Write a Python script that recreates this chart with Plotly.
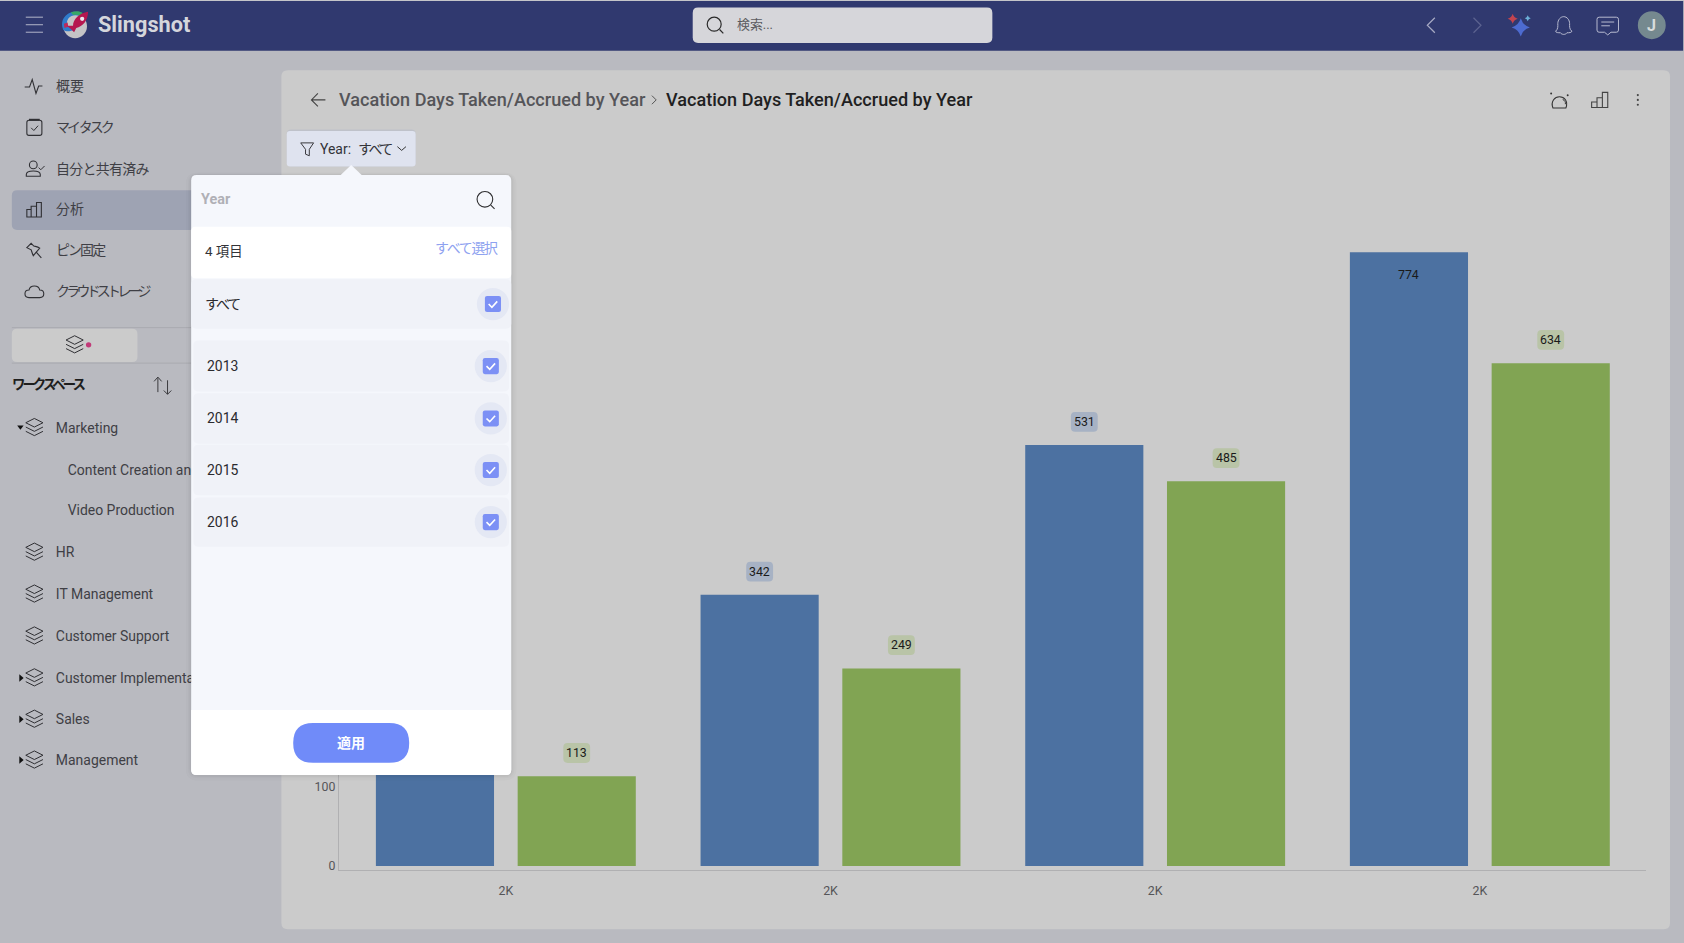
import re
import plotly.graph_objects as go

# ---------- chart data ----------
years = [2013, 2014, 2015, 2016]
x_tick_labels = ["2K", "2K", "2K", "2K"]
days_accrued = [150, 342, 531, 774]
days_taken = [113, 249, 485, 634]

# ---------- interface text ----------
nav_items = ["概要", "マイ タスク", "自分と共有済み", "分析", "ピン固定", "クラウド ストレージ"]
nav_spacing = [0, -2.9, -0.7, 0, -1.9, -3.7]
tree_items = ["Marketing", "HR", "IT Management", "Customer Support", "Customer Implementation", "Sales", "Management"]
tree_children = ["Content Creation and", "Video Production"]
title_text = "Vacation Days Taken/Accrued by Year"

W, H = 1684, 943
S = W / 1568  # authored in 1568-wide units
SY = S * 1.0035
FONT = "Roboto, 'Noto Sans CJK JP', sans-serif"

shapes, notes = [], []


def X(v):
    return v * S / W


def Y(v):
    return 1 - v * SY / H


def P(path, dx=0, dy=0):
    out, i = [], 0
    for tok in re.findall(r"[A-Za-z]|-?\d+\.?\d*", path):
        if tok.isalpha():
            out.append(tok)
        else:
            if i % 2 == 0:
                out.append(f"{X(float(tok) + dx):.6f}")
            else:
                out.append(f"{Y(float(tok) + dy):.6f}")
            i += 1
    return " ".join(out)


def path(d, fill=None, line=None, width=1.0, dx=0, dy=0, opacity=1):
    shapes.append(dict(type="path", xref="paper", yref="paper", path=P(d, dx, dy), layer="above", opacity=opacity,
                       fillcolor=fill or "rgba(0,0,0,0)",
                       line=dict(color=line or "rgba(0,0,0,0)", width=width if line else 0)))


def rr_d(x0, y0, x1, y1, r=0, tl=True, tr=True, br=True, bl=True):
    a, b, c, d = (r if tl else 0), (r if tr else 0), (r if br else 0), (r if bl else 0)
    return (f"M {x0+a} {y0} L {x1-b} {y0} Q {x1} {y0} {x1} {y0+b} L {x1} {y1-c} Q {x1} {y1} {x1-c} {y1} "
            f"L {x0+d} {y1} Q {x0} {y1} {x0} {y1-d} L {x0} {y0+a} Q {x0} {y0} {x0+a} {y0} Z")


def rect(x0, y0, x1, y1, fill, r=0, opacity=1, **kw):
    path(rr_d(x0, y0, x1, y1, r, **kw), fill=fill, opacity=opacity)


def circle(cx, cy, r, fill=None, line=None, width=1.0):
    shapes.append(dict(type="circle", xref="paper", yref="paper", layer="above",
                       x0=X(cx - r), x1=X(cx + r), y0=Y(cy + r), y1=Y(cy - r),
                       fillcolor=fill or "rgba(0,0,0,0)",
                       line=dict(color=line or "rgba(0,0,0,0)", width=width if line else 0)))


def txt(x, y, text, size=13, color="#3c3c40", anchor="left", weight=400, spacing=0):
    if spacing:
        text = f'<span style="letter-spacing:{spacing}px">{text}</span>'
    nudge = -1 if anchor == "left" else 0
    notes.append(dict(xref="paper", yref="paper", x=X(x + nudge), y=Y(y), text=text, showarrow=False,
                      xanchor=anchor, yanchor="middle", borderpad=0, align=anchor,
                      font=dict(family=FONT, size=size * S, color=color, weight=weight)))


# ---------- chart geometry ----------
PLOT_L, PLOT_R, PLOT_T, PLOT_B = 315.5, 1533, 175, 810
ZERO_Y, UNIT = 806, 0.738
CAT0, CAT_W = 471, 302.3
BAR_OFFSET = 66 / CAT_W

fig = go.Figure()
fig.add_bar(x=years, y=days_accrued, name="Accrued", marker=dict(color="#4c71a1", line=dict(width=0)))
fig.add_bar(x=years, y=days_taken, name="Taken", marker=dict(color="#81a453", line=dict(width=0)))

# ---------- backgrounds drawn under the chart ----------
rect(0, 0, 1568, 878, "#b9bac0")
rect(262, 65.3, 1555, 865, "#cbcbcb", r=6)
rect(0, 1, 1567.2, 47.3, "#30396f")
rect(0, 0, 1568, 0.9, "#c4c5c9")
for s in shapes:
    s["layer"] = "below"

# ---------- data labels ----------
def pill(year_x, value, up, fill):
    w, h, r = 12.5 * S, 9.2 * S, 4 * S
    u = up * S
    d = (f"M {-w+r} {u+h} L {w-r} {u+h} Q {w} {u+h} {w} {u+h-r} L {w} {u-h+r} Q {w} {u-h} {w-r} {u-h} "
         f"L {-w+r} {u-h} Q {-w} {u-h} {-w} {u-h+r} L {-w} {u+h-r} Q {-w} {u+h} {-w+r} {u+h} Z")
    shapes.append(dict(type="path", xref="x", yref="y", xsizemode="pixel", ysizemode="pixel",
                       xanchor=year_x, yanchor=value, path=d, layer="above",
                       fillcolor=fill, line=dict(width=0)))


def value_label(year_x, value, up):
    notes.append(dict(xref="x", yref="y", x=year_x, y=value, yshift=up * S, text=str(value), showarrow=False,
                      xanchor="center", yanchor="middle",
                      font=dict(family=FONT, size=11.5 * S, color="#1a1a1a")))


for yr, a, t in zip(years, days_accrued, days_taken):
    if yr != years[0]:  # that label sits behind the open filter panel
        if a < max(days_accrued):
            pill(yr - BAR_OFFSET, a, 21.5, "#a7b2c4")
            value_label(yr - BAR_OFFSET, a, 21.5)
        else:
            value_label(yr - BAR_OFFSET, a, -21)
    pill(yr + BAR_OFFSET, t, 21.7, "#b9c4a7")
    value_label(yr + BAR_OFFSET, t, 21.7)

# ---------- header ----------
for yy in (16, 23, 30):
    path(f"M 24 {yy} L 40 {yy}", line="#a8abc2", width=1.1)
# logo
circle(70, 24.5, 11, fill="#c4c4c6")
path("M 59 28 C 54 16 66 8 76 12 L 74 15 C 68 12 60 17 63 24 L 69 28 C 66 29 62 30 59 28 Z", fill="#2f7bcb")
path("M 66 11.5 C 70 10 74 10 77 12 L 75 15 C 72 13.5 70 13.5 68 14 Z", fill="#36a866")
path("M 59.5 22 L 63 21 L 63.5 25 L 60 26 Z", fill="#bb2a5c")
path("M 68 24 C 68 18 74 12 82 11 C 82 19 77 25 71 26 L 69 30 L 66 27 L 62 24 Z", fill="#b5174f")
circle(76.5, 17.5, 2, fill="#e9e9ee")
txt(91, 23, "Slingshot", size=20.2, color="#d5d6dc", weight=700)
# search box
rect(645, 7, 924, 40, "#d6d6da", r=5)
circle(665, 22.5, 6.5, line="#2a2a2a", width=1.2)
path("M 670 27.5 L 673.5 31", line="#2a2a2a", width=1.2)
txt(686, 23, "検索...", size=12, color="#5b5b60")
# nav chevrons
path("M 1336 16.5 L 1329 23.5 L 1336 30.5", line="#a7aac4", width=1.2)
path("M 1372 16.5 L 1379 23.5 L 1372 30.5", line="#5c6390", width=1.2)


def star(cx, cy, r, fill):
    k = r * 0.22
    path(f"M {cx} {cy-r} Q {cx+k} {cy-k} {cx+r} {cy} Q {cx+k} {cy+k} {cx} {cy+r} Q {cx-k} {cy+k} {cx-r} {cy} Q {cx-k} {cy-k} {cx} {cy-r} Z", fill=fill)


star(1416, 25.5, 8.5, "#4d6bd0")
star(1408.5, 17.5, 4.7, "#c2444f")
star(1422.5, 17, 2.8, "#6cb0d8")
# bell
path("M 1448.5 29 C 1451 27 1450.5 24 1450.5 22 C 1450.5 18.5 1453 15.5 1456 15.5 C 1459 15.5 1461.5 18.5 1461.5 22 "
     "C 1461.5 24 1461 27 1463.5 29 C 1463.5 30.5 1461 30.5 1459 30.5 C 1458 32.5 1454 32.5 1453 30.5 C 1451 30.5 1448.5 30.5 1448.5 29 Z",
     line="#b7bad0", width=1)
# chat
path("M 1489 16 L 1505 16 Q 1507 16 1507 18 L 1507 28 Q 1507 30 1505 30 L 1500 30 L 1497 32.5 L 1494 30 L 1489 30 Q 1487 30 1487 28 L 1487 18 Q 1487 16 1489 16 Z",
     line="#b7bad0", width=1)
path("M 1491 20.5 L 1503 20.5 M 1491 24 L 1499 24", line="#b7bad0", width=1)
circle(1538, 23.5, 13, fill="#75898f")
txt(1538, 24, "J", size=15, color="#d8dcdc", anchor="center", weight=700)

# ---------- sidebar ----------
rect(11, 177, 250, 214, "#9ea3b3", r=5)
for label, yy, sp in zip(nav_items, (80, 118, 157, 195, 233, 271), nav_spacing):
    txt(52, yy, label, size=13, color="#3f3f45", spacing=sp)
ICON = "#303034"
path("M 23 81 L 27.5 81 L 30 74 L 33.5 87 L 36 80 L 39.5 80", line=ICON, width=1.1)
path(rr_d(25, 112, 39, 126, 2), line=ICON, width=1.1)
path("M 27 111.5 L 37 111.5", line=ICON, width=2)
path("M 29 119 L 31.5 121.5 L 35.5 117", line=ICON, width=1)
circle(31, 153.5, 3.6, line=ICON, width=1.1)
path("M 24.5 164 L 24.5 162.5 C 24.5 158 37.5 158 37.5 162.5 L 37.5 164 Z", line=ICON, width=1.1)
path("M 36 156 L 38 158 L 41.5 154.5", line=ICON, width=1)
path("M 25 202 L 25 195 L 29 195 L 29 202 Z M 29 202 L 29 192 L 34 192 L 34 202 Z M 34 202 L 34 188.5 L 38.5 188.5 L 38.5 202 Z", line=ICON, width=1.1)
path("M 25 230.5 L 29 226.5 L 31.5 229 C 33 229.5 35 229.5 37 231 L 31 238 C 30 236 29.5 234 29 232.5 Z", line=ICON, width=1.1)
path("M 33.5 234.5 L 38.5 240", line=ICON, width=1.1)
path("M 27 277 C 22 277 22 270 27 270 C 28 265 36 265 37 270 C 42 270 42 277 37 277 Z", line=ICON, width=1.1)

path("M 11 305 L 178 305", line="#a9aab0", width=1)
path("M 11 338 L 178 338", line="#a9aab0", width=1)
rect(11, 306, 128, 337, "#cbcbcb", r=5)


def layers(cx, cy):
    path("M -8 -4.5 L 0 -8.5 L 8 -4.5 L 0 -0.5 Z", line=ICON, width=1, dx=cx, dy=cy)
    path("M -8 -0.5 L 0 3.5 L 8 -0.5", line=ICON, width=1, dx=cx, dy=cy)
    path("M -8 3.5 L 0 7.5 L 8 3.5", line=ICON, width=1, dx=cx, dy=cy)


layers(69.5, 321)
circle(82.5, 321, 2.5, fill="#c23a78")
txt(11, 358, "ワークスペース", size=12.5, color="#1e1e1e", weight=700, spacing=-3)
path("M 147 365 L 147 352 M 143.5 355 L 147 351 L 150.5 355 M 156 354 L 156 367 M 152.5 363.5 L 156 367 L 159.5 363.5", line="#3a3a3e", width=1)

tree_y = (398, 514, 553, 592, 631, 669.5, 707.5)
child_y = (437, 475)
arrow = {0: "down", 4: "right", 5: "right", 6: "right"}
for i, yy in enumerate(tree_y):
    layers(32, yy)
    if arrow.get(i) == "down":
        path(f"M 16 {yy-2} L 22 {yy-2} L 19 {yy+2} Z", fill="#111")
    elif arrow.get(i) == "right":
        path(f"M 18 {yy-3.5} L 22 {yy} L 18 {yy+3.5} Z", fill="#111")

# Tree labels run under the open panel, so they are text marks on a full-page axis pair.
tree_labels = tree_items + tree_children
tree_xs = [52 * S] * len(tree_items) + [63 * S] * len(tree_children)
tree_ys = [(v + 1.5) * SY for v in tree_y + child_y]
fig.add_scatter(x=tree_xs, y=tree_ys, text=tree_labels, mode="text", textposition="middle right", xaxis="x2", yaxis="y2",
                textfont=dict(family=FONT, size=13 * S, color="#3f3f45"), cliponaxis=False, hoverinfo="skip")

# ---------- title row ----------
path("M 303 93 L 290 93 M 296 87 L 290 93 L 296 99", line="#444", width=1.1)
txt(316, 93, title_text, size=16.85, color="#555559", weight=500)
path("M 607 89 L 611 93 L 607 97", line="#555", width=1)
txt(620, 93, title_text, size=16.85, color="#1f1f22", weight=500)
path("M 1446 100.5 C 1443.5 94 1448 90 1452 90 C 1456.5 90 1460.5 94 1458 100.5 Z", line="#333", width=1.1)
path("M 1455 92.5 C 1457 93.5 1458 95 1457.5 97", line="#333", width=1)
circle(1444.3, 87, 0.9, fill="#333")
circle(1459.7, 88.7, 0.9, fill="#333")
path("M 1482 100 L 1482 95 L 1487 95 L 1487 100 Z M 1487 100 L 1487 91 L 1492 91 L 1492 100 Z M 1492 100 L 1492 86 L 1497 86 L 1497 100 Z", line="#444", width=1.1)
for yy in (88.5, 93, 97.5):
    circle(1525, yy, 1, fill="#444")

# ---------- filter chip ----------
rect(267, 120.5, 387, 155, "#bfc2ca", r=4)
rect(267, 122, 387, 155, "#dfe3ef", r=3)
path("M 280 133 L 292 133 L 288 139 L 288 145 L 284.5 143.5 L 284.5 139 Z", line="#3a3a3e", width=1)
txt(298, 138.5, 'Year:  <span style="letter-spacing:-2.4px">すべて</span>', size=13, color="#333338")
path("M 370 136.5 L 374 140 L 378 136.5", line="#333", width=1)

# ---------- filter panel ----------
for grow, alpha in ((5, 0.015), (3, 0.02), (1.5, 0.03)):
    rect(178 - grow, 163 - grow / 2, 476 + grow, 721.5 + grow, "#000", r=6 + grow, opacity=alpha)
path("M 316 164 L 327 153.5 L 338 164 Z", fill="#f5f7fc")
rect(178, 163, 476, 721.5, "#f5f7fc", r=5)
rect(178, 211, 476, 259, "#ffffff", r=4)
rect(178, 661, 476, 721.5, "#ffffff", r=5, tl=False, tr=False)
rect(273, 673, 381, 710, "#708bf9", r=18.5)
txt(326.5, 691.5, "適用", size=13, color="#ffffff", anchor="center", weight=700)
txt(187, 186, "Year", size=13.4, color="#b0b0b6", weight=700)
circle(451.5, 185.5, 7.3, line="#2e2e30", width=1.1)
path("M 457 191 L 460.5 194.5", line="#2e2e30", width=1.1)
txt(191, 234, "4 項目", size=12.5, color="#333338")
txt(405.5, 231, "すべて選択", size=13, color="#8ea2f0", spacing=-1.3)


def check_row(y0, y1, x0, x1, cx, label, lx, sp=0):
    rect(x0, y0, x1, y1, "#f0f2f8", r=5)
    cy = (y0 + y1) / 2
    circle(cx, cy, 15, fill="#e4e8f4")
    rect(cx - 7.5, cy - 7.5, cx + 7.5, cy + 7.5, "#7c90f5", r=2)
    path(f"M {cx-4} {cy} L {cx-1} {cy+3} L {cx+4} {cy-2.5}", line="#ffffff", width=1.6)
    txt(lx, cy, label, size=13, color="#2b2b2f", spacing=sp)


check_row(260, 306, 178, 476, 459, "すべて", 190.5, sp=-2)
rows = [(317, 364.5), (366, 413), (414, 461), (463, 509)]
for (a, b), yr in zip(rows, years):
    check_row(a, b, 180, 474, 457, str(yr), 193)

# ---------- layout ----------
y_bottom = (ZERO_Y - PLOT_B) / UNIT
y_top = (ZERO_Y - PLOT_T) / UNIT
x_low = years[0] + (PLOT_L - CAT0) / CAT_W
x_high = years[0] + (PLOT_R - CAT0) / CAT_W

fig.update_layout(
    width=W, height=H, margin=dict(l=0, r=0, t=0, b=0),
    paper_bgcolor="#b9bac0", plot_bgcolor="rgba(0,0,0,0)",
    showlegend=False, barmode="group", bargap=1 - 132 * 2 / CAT_W, bargroupgap=22 / 132,
    font=dict(family=FONT),
    shapes=shapes, annotations=notes,
    xaxis=dict(domain=[X(PLOT_L), X(PLOT_R)], range=[x_low, x_high], tickmode="array", tickvals=years,
               ticktext=x_tick_labels, showgrid=False, zeroline=False, showline=True, linecolor="#b0b0b2", linewidth=1,
               ticks="", ticklabelstandoff=9, tickfont=dict(family=FONT, size=11.5 * S, color="#555558")),
    yaxis=dict(domain=[Y(PLOT_B), Y(PLOT_T)], range=[y_bottom, y_top], dtick=100, showgrid=False, zeroline=False,
               showline=True, linecolor="#b0b0b2", linewidth=1, ticks="",
               tickfont=dict(family=FONT, size=11.5 * S, color="#555558")),
    xaxis2=dict(domain=[0, 1], range=[0, W], visible=False, anchor="y2"),
    yaxis2=dict(domain=[0, 1], range=[H, 0], visible=False, anchor="x2"),
)
fig.write_html("out.html", config={"displayModeBar": False}, post_script="document.body.style.margin='0';")
